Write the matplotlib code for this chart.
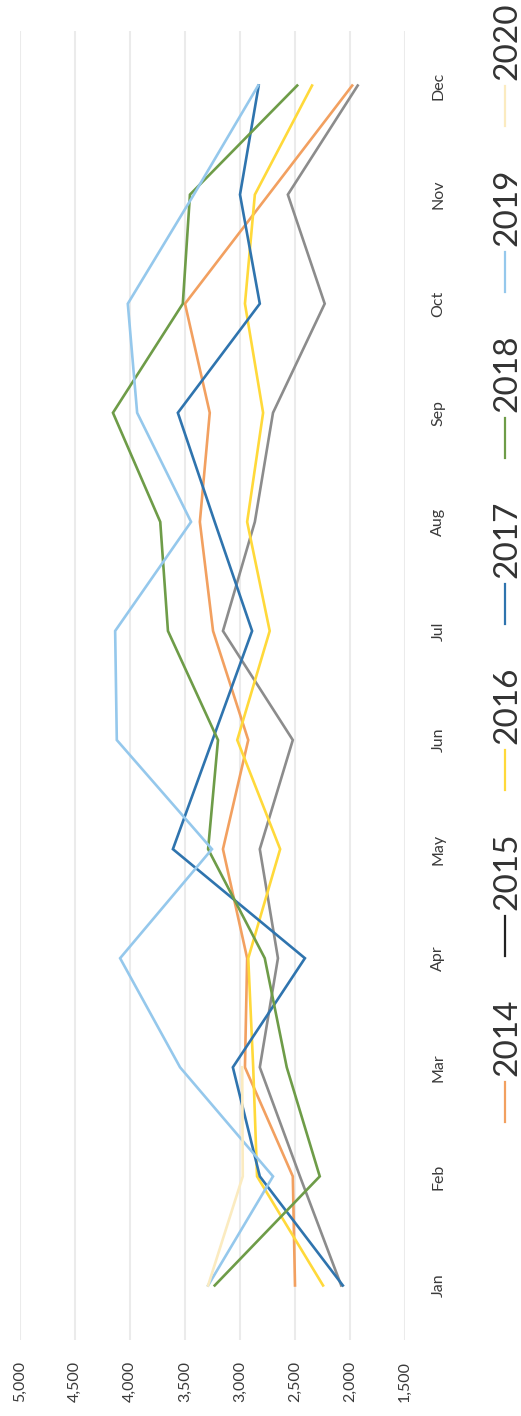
import numpy as np
import matplotlib
matplotlib.use('Agg')
import matplotlib.pyplot as plt
from matplotlib.lines import Line2D

plt.rcParams['font.family'] = ['Lato', 'DejaVu Sans']

# monthly values
months = ['Jan', 'Feb', 'Mar', 'Apr', 'May', 'Jun', 'Jul', 'Aug', 'Sep', 'Oct', 'Nov', 'Dec']
years = ['2014', '2015', '2016', '2017', '2018', '2019', '2020']
y2014 = [2500, 2520, 2955, 2935, 3155, 2925, 3245, 3365, 3275, 3500, 2740, 1980]
y2015 = [2080, 2455, 2820, 2655, 2820, 2520, 3155, 2865, 2700, 2230, 2565, 1930]
y2016 = [2245, 2845, 2880, 2925, 2635, 3025, 2730, 2935, 2790, 2955, 2865, 2345]
y2017 = [2065, 2820, 3065, 2410, 3610, 3250, 2890, 3230, 3565, 2820, 3000, 2830]
y2018 = [3230, 2275, 2575, 2775, 3290, 3200, 3655, 3725, 4155, 3520, 3455, 2480]
y2019 = [3290, 2700, 3545, 4090, 3255, 4120, 4135, 3445, 3935, 4020, 3420, 2835]
y2020 = [3290, 2975, 2980] + [np.nan] * 9
value_ticks = [5000, 4500, 4000, 3500, 3000, 2500, 2000, 1500]

series = [y2014, y2015, y2016, y2017, y2018, y2019, y2020]
colors = ['#F2A060', '#8C8C8C', '#FFD93A', '#2F74AE', '#6E9C48', '#95C8EC', '#FBEBC0']
legend_colors = ['#F2A060', '#222222', '#FFD93A', '#2F74AE', '#6E9C48', '#95C8EC', '#FBEBC0']

W, H = 521, 1416
fig = plt.figure(figsize=(W / 100, H / 100), dpi=100)
ax = fig.add_axes([20 / W, 1 - 1340 / H, 385 / W, 1309 / H])

pos = np.arange(len(months))
for vals, c in zip(series, colors):
    ax.plot(vals, pos, color=c, lw=1.9, solid_joinstyle='miter')

ax.set_xlim(5000, 1500)
ax.set_ylim(-0.5, 11.5)
ax.set_xticks(value_ticks)
ax.set_xticklabels(['{:,}'.format(v) for v in value_ticks], rotation=90,
                   fontsize=11.5, color='#3a3a3a')
ax.set_yticks(pos)
ax.set_yticklabels(months, rotation=90, va='center', fontsize=11.5, color='#3a3a3a')
ax.yaxis.tick_right()
ax.tick_params(axis='x', length=0, pad=15)
ax.tick_params(axis='y', length=0, pad=19)
ax.grid(axis='x', color='#ebebeb', lw=1.5)
ax.set_axisbelow(True)
for s in ax.spines.values():
    s.set_visible(False)

# legend drawn by hand so the entries can be rotated like the scan
for i, (yr, c) in enumerate(zip(years, legend_colors)):
    yc = 1102 - 166 * i
    fig.add_artist(Line2D([505 / W, 505 / W], [1 - (yc + 20) / H, 1 - (yc - 20) / H],
                          color=c, lw=1.6, transform=fig.transFigure))
    fig.text(504 / W, 1 - (yc - 26) / H, yr, rotation=90, rotation_mode='anchor',
             ha='left', va='center_baseline', fontsize=24, color='#333333')

fig.savefig('out.png', dpi=100, facecolor='white')
